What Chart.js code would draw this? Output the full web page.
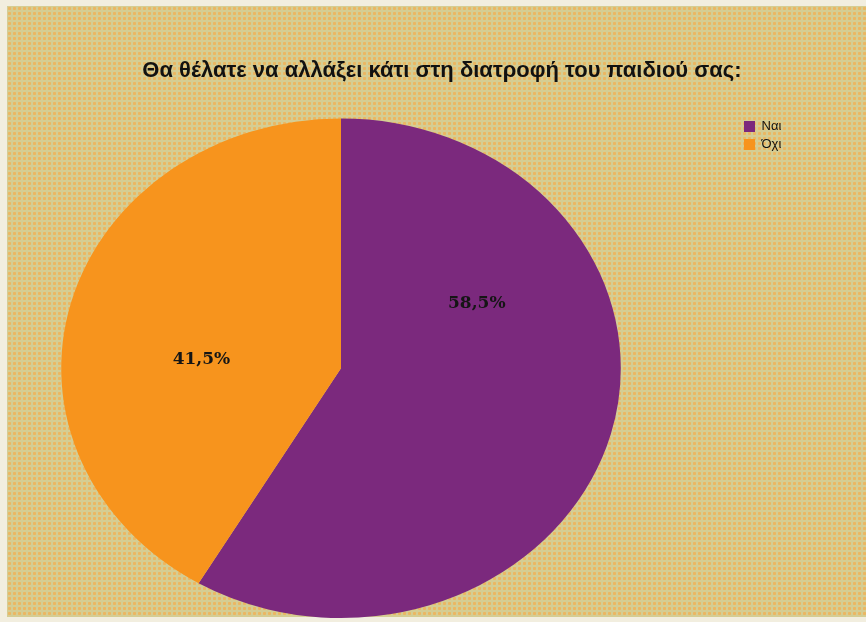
<!DOCTYPE html>
<html lang="el">
<head>
<meta charset="utf-8">
<title>Διατροφή παιδιού</title>
<script src="https://cdn.jsdelivr.net/npm/chart.js@4"></script>
<style>
  html, body { margin: 0; padding: 0; }
  body { width: 866px; height: 622px; position: relative; overflow: hidden; background: #f2eedf; }
  #plate {
    position: absolute; left: 7px; top: 6px; width: 859px; height: 611px;
    background-color: #d5cd93;
    background-image: radial-gradient(circle, #ebb762 1.3px, transparent 1.9px);
    background-size: 5px 5px;
  }
  #pie { position: absolute; left: 0; top: 0; }
</style>
</head>
<body>
<div id="plate"></div>
<canvas id="pie" width="866" height="622"></canvas>
<script>
const categories = ['Ναι', 'Όχι'];
const shares = [58.5, 41.5];
const sliceColors = ['#7b297d', '#f7941d'];

// squash the round pie into the wider oval
const stretchPie = {
  id: 'stretchPie',
  beforeDatasetsDraw(chart, args, opts) {
    const arc = chart.getDatasetMeta(0).data[0];
    if (!arc) return;
    const ctx = chart.ctx;
    ctx.save();
    ctx.translate(arc.x, arc.y);
    ctx.scale(opts.x, 1);
    ctx.translate(-arc.x, -arc.y);
  },
  afterDatasetsDraw(chart) {
    chart.ctx.restore();
  }
};

// percentage text inside each slice
const sliceLabels = {
  id: 'sliceLabels',
  afterDatasetsDraw(chart, args, opts) {
    const ctx = chart.ctx;
    const sx = chart.options.plugins.stretchPie.x;
    ctx.save();
    ctx.font = opts.font;
    ctx.fillStyle = opts.color;
    ctx.textAlign = 'center';
    ctx.textBaseline = 'middle';
    chart.getDatasetMeta(0).data.forEach((arc, i) => {
      const a = arc.startAngle + opts.frac[i] * (arc.endAngle - arc.startAngle);
      const r = arc.outerRadius * opts.dist[i];
      const txt = shares[i].toFixed(1).replace('.', ',') + '%';
      ctx.fillText(txt, arc.x + Math.cos(a) * r * sx, arc.y + Math.sin(a) * r);
    });
    ctx.restore();
  }
};

// move title and legend off the pie's own box
const placeBoxes = {
  id: 'placeBoxes',
  afterLayout(chart, args, opts) {
    const t = chart.titleBlock;
    if (t) {
      t.left = opts.titleLeft;
      t.right = opts.titleRight;
      t.width = t.right - t.left;
    }
    const lg = chart.legend;
    if (lg) {
      const w = lg.width, h = lg.height;
      lg.left = opts.legendX;
      lg.top = opts.legendY;
      lg.right = lg.left + w;
      lg.bottom = lg.top + h;
    }
  }
};

new Chart(document.getElementById('pie').getContext('2d'), {
  type: 'pie',
  data: {
    labels: categories,
    datasets: [{ data: shares, backgroundColor: sliceColors, borderWidth: 0 }],
  },
  options: {
    responsive: false,
    animation: false,
    layout: { padding: { left: 61, right: 245, top: 0, bottom: 4 } },
    plugins: {
      tooltip: { enabled: false },
      title: {
        display: true,
        text: 'Θα θέλατε να αλλάξει κάτι στη διατροφή του παιδιού σας:',
        color: '#111',
        font: { family: 'Liberation Sans', size: 22, weight: 'bold' },
        padding: { top: 58, bottom: 34 },
      },
      legend: {
        position: 'chartArea',
        align: 'start',
        labels: {
          boxWidth: 11,
          boxHeight: 11,
          padding: 5,
          color: '#111',
          font: { family: 'Liberation Sans', size: 13 },
        },
      },
      stretchPie: { x: 1.12 },
      sliceLabels: {
        font: 'bold 17px "DejaVu Serif"',
        color: '#151515',
        frac: [0.294, 0.424],
        dist: [0.55, 0.5],
      },
      placeBoxes: { titleLeft: 18, titleRight: 866, legendX: 739, legendY: 115 },
    },
  },
  plugins: [stretchPie, sliceLabels, placeBoxes],
});
</script>
</body>
</html>
